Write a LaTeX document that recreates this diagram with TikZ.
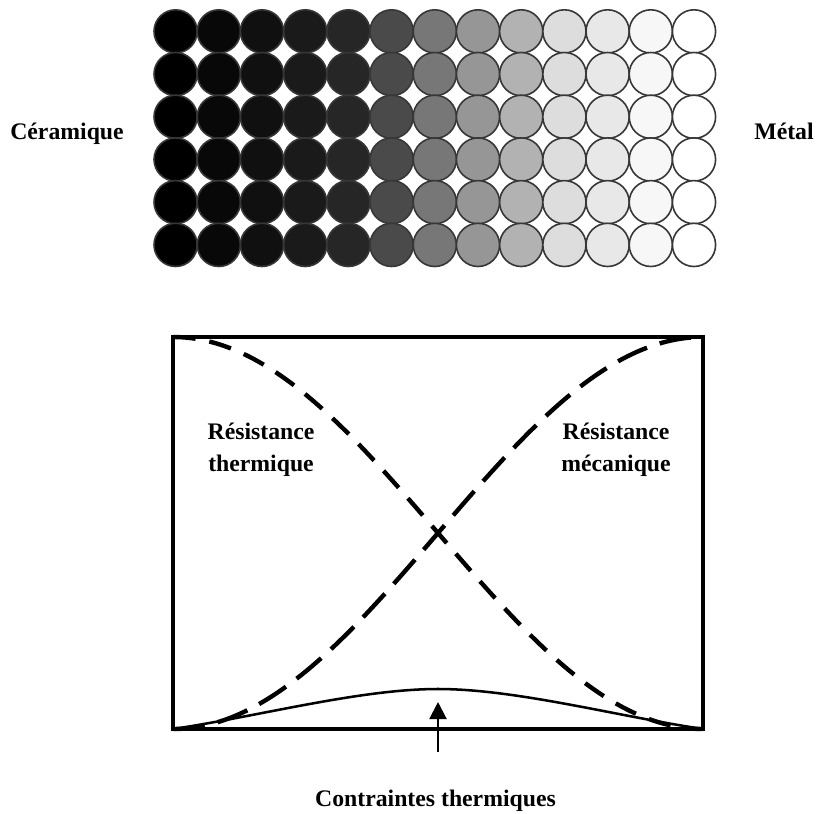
\documentclass[tikz,border=0pt]{standalone}
\usepackage{fontspec}
\setmainfont{Liberation Serif}
\usetikzlibrary{arrows,arrows.meta}
\usetikzlibrary{calc, positioning}
\tikzset{
    bille/.style={draw={rgb,255:red,55;green,55;blue,55}, line width=1.2pt},
    cadre/.style={line width=2.3pt, line join=miter},
    thermique/.style={line width=3.3pt, dash pattern=on 17pt off 10.5pt},
    mecanique/.style={line width=3.3pt, dash pattern=on 24pt off 10pt},
    contrainte/.style={line width=1.9pt},
    fleche/.style={line width=1.5pt, -{Triangle[length=12.75pt, width=12.75pt]}}
}

\begin{document}
\begin{tikzpicture}[x=0.75pt, y=-0.75pt]
    \def \dx {43.2}
    \def \dy {42.7}
    \tikzstyle{every node}=[font=\bfseries\fontsize{17.8}{24}\selectfont, inner sep=0pt];
    \useasboundingbox (0,0) rectangle (816,813);
    % gradient ceramique -> metal
    \foreach \g [count=\i from 0] in {0,8,16,26,38,74,119,150,178,221,232,247,255}
        \foreach \j in {0,...,5}
            \filldraw[bille, fill={rgb,255:red,\g;green,\g;blue,\g}] ({175.6+\dx*\i},{31.4+\dy*\j}) circle[radius=16.2pt];
    \node[anchor=base] (ceramique) at (67,140) {Céramique};
    \node[anchor=base] (metal) at (784,140) {Métal};
    % diagram
    \coordinate (hg) at (173,337);
    \coordinate (hd) at (703,337);
    \coordinate (bg) at (173,729);
    \coordinate (bd) at (703,729);
    \coordinate (sommet) at (438,689);
    \draw[cadre] (hg) rectangle (bd);
    \draw[thermique] plot[domain=0:1, samples=80, smooth] ({173+530*\x},{533-196*cos(180*\x)});
    \draw[mecanique] plot[domain=0:1, samples=80, smooth] ({173+530*\x},{533+196*cos(180*\x)});
    \draw[contrainte] (bg) .. controls (260,716) and (360,689) .. (sommet)
                           .. controls (516,689) and (616,716) .. (bd);
    \node[align=center] (rth) at (261,450) {Résistance\\thermique};
    \node[align=center] (rmeca) at (616,450) {Résistance\\mécanique};
    \node[anchor=base] (contraintes) at (435.5,806) {Contraintes thermiques};
    \coordinate (queue) at (438,752);
    \coordinate (pointe) at (438,702);
    \draw[fleche] (queue) -- (pointe);
\end{tikzpicture}
\end{document}
